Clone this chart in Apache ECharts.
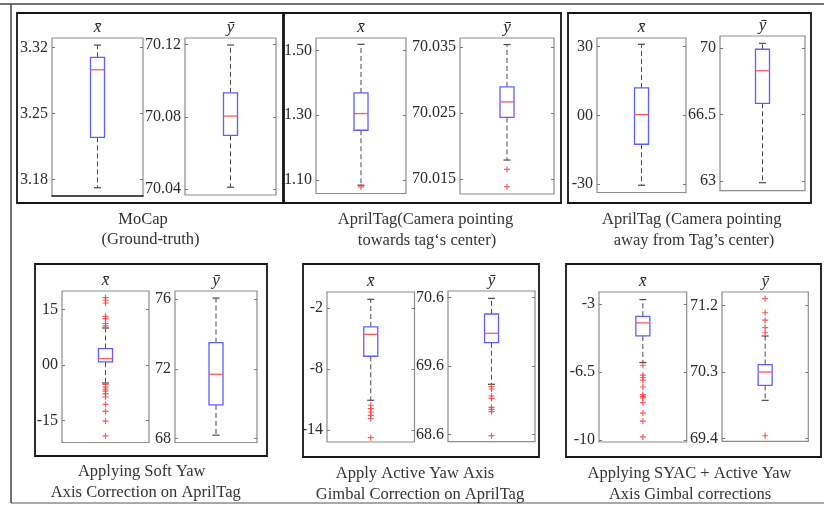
<!DOCTYPE html>
<html>
<head>
<meta charset="utf-8">
<script src="https://cdn.jsdelivr.net/npm/echarts@6/dist/echarts.min.js"></script>
<style>
  html, body { margin: 0; padding: 0; background: #fff; }
  #chart { width: 824px; height: 514px; }
</style>
</head>
<body>
<div id="chart"></div>
<script>
// Box statistics: [lower whisker, Q1, median, Q3, upper whisker]
const mocapX = [3.1715, 3.2249, 3.2966, 3.3098, 3.3228];
const mocapXOut = [];
const mocapY = [70.0409, 70.0697, 70.0804, 70.0933, 70.1198];
const mocapYOut = [];

const towardX = [1.0840, 1.2537, 1.3052, 1.3688, 1.5191];
const towardXOut = [1.0787];
const towardY = [70.0179, 70.02434, 70.02669, 70.02895, 70.03535];
const towardYOut = [70.01649, 70.01387];

const awayX = [-30.5, -12.6, 0.3, 11.95, 31.0];
const awayXOut = [];
const awayY = [62.92, 67.09, 68.80, 69.93, 70.24];
const awayYOut = [];

const softX = [-4.9, 0.79, 1.71, 4.42, 9.99];
const softXOut = [18.2, 17.5, 16.75, 13.15, 12.5, 11.2, 10.55,
                  -5.3, -6.0, -6.6, -7.1, -7.8, -8.7, -10.7, -12.6, -15.2, -19.2];
const softY = [68.19, 69.93, 71.69, 73.51, 76.07];
const softYOut = [];

const gimbalX = [-11.06, -6.75, -4.60, -3.88, -1.17];
const gimbalXOut = [-11.55, -11.88, -12.21, -12.53, -12.86, -14.72];
const gimbalY = [69.334, 69.939, 70.076, 70.357, 70.585];
const gimbalYOut = [69.299, 69.265, 69.163, 69.130, 68.999, 68.970, 68.935, 68.585];

const syacX = [-6.02, -4.65, -3.98, -3.64, -2.78];
const syacXOut = [-6.16, -6.67, -6.79, -6.93, -7.28, -7.67, -7.76, -7.84, -8.08, -8.62, -9.04, -9.85];
const syacY = [69.918, 70.12, 70.30, 70.40, 70.786];
const syacYOut = [71.29, 71.10, 71.00, 70.90, 70.83, 69.44];

// Axis ranges, tick values and tick labels
const mocapXRange = [3.1627, 3.3303];   const mocapXTicks = [3.18, 3.25, 3.32];     const mocapXLabels = ['3.18', '3.25', '3.32'];
const mocapYRange = [70.0366, 70.1237]; const mocapYTicks = [70.04, 70.08, 70.12];  const mocapYLabels = ['70.04', '70.08', '70.12'];
const towardXRange = [1.0583, 1.5386];  const towardXTicks = [1.10, 1.30, 1.50];    const towardXLabels = ['1.10', '1.30', '1.50'];
const towardYRange = [70.01277, 70.03634]; const towardYTicks = [70.015, 70.025, 70.035]; const towardYLabels = ['70.015', '70.025', '70.035'];
const awayXRange = [-33.66, 33.75];     const awayXTicks = [-30, 0, 30];            const awayXLabels = ['-30', '00', '30'];
const awayYRange = [62.50, 70.627];     const awayYTicks = [63, 66.5, 70];          const awayYLabels = ['63', '66.5', '70'];
const softXRange = [-21.01, 20.0];      const softXTicks = [-15, 0, 15];            const softXLabels = ['-15', '00', '15'];
const softYRange = [67.77, 76.475];     const softYTicks = [68, 72, 76];            const softYLabels = ['68', '72', '76'];
const gimbalXRange = [-15.147, -0.456]; const gimbalXTicks = [-14, -8, -2];         const gimbalXLabels = ['-14', '-8', '-2'];
const gimbalYRange = [68.498, 70.692];  const gimbalYTicks = [68.6, 69.6, 70.6];    const gimbalYLabels = ['68.6', '69.6', '70.6'];
const syacXRange = [-10.11, -2.39];     const syacXTicks = [-10, -6.5, -3];         const syacXLabels = ['-10', '-6.5', '-3'];
const syacYRange = [69.365, 71.38];     const syacYTicks = [69.4, 70.3, 71.2];      const syacYLabels = ['69.4', '70.3', '71.2'];

const subplotTitles = ['x\u0304', 'y\u0304'];

const captions = [
  ['MoCap', '(Ground-truth)'],
  ['AprilTag(Camera pointing', 'towards tag\u2018s center)'],
  ['AprilTag (Camera pointing', 'away from Tag\u2019s center)'],
  ['Applying Soft Yaw', 'Axis Correction on AprilTag'],
  ['Apply Active Yaw Axis', 'Gimbal Correction on AprilTag'],
  ['Applying SYAC + Active Yaw', 'Axis Gimbal corrections']
];

// Plot list (stats, outliers, axis) in drawing order
const plots = [
  { s: mocapX,  o: mocapXOut,  r: mocapXRange,  t: mocapXTicks,  l: mocapXLabels,  title: 0 },
  { s: mocapY,  o: mocapYOut,  r: mocapYRange,  t: mocapYTicks,  l: mocapYLabels,  title: 1 },
  { s: towardX, o: towardXOut, r: towardXRange, t: towardXTicks, l: towardXLabels, title: 0 },
  { s: towardY, o: towardYOut, r: towardYRange, t: towardYTicks, l: towardYLabels, title: 1 },
  { s: awayX,   o: awayXOut,   r: awayXRange,   t: awayXTicks,   l: awayXLabels,   title: 0 },
  { s: awayY,   o: awayYOut,   r: awayYRange,   t: awayYTicks,   l: awayYLabels,   title: 1 },
  { s: softX,   o: softXOut,   r: softXRange,   t: softXTicks,   l: softXLabels,   title: 0 },
  { s: softY,   o: softYOut,   r: softYRange,   t: softYTicks,   l: softYLabels,   title: 1 },
  { s: gimbalX, o: gimbalXOut, r: gimbalXRange, t: gimbalXTicks, l: gimbalXLabels, title: 0 },
  { s: gimbalY, o: gimbalYOut, r: gimbalYRange, t: gimbalYTicks, l: gimbalYLabels, title: 1 },
  { s: syacX,   o: syacXOut,   r: syacXRange,   t: syacXTicks,   l: syacXLabels,   title: 0 },
  { s: syacY,   o: syacYOut,   r: syacYRange,   t: syacYTicks,   l: syacYLabels,   title: 1 }
];

// Layout: plot areas [left, top, width, height]
const gridBoxes = [
  [52, 38, 91, 158],   [185, 38, 91, 157],
  [316, 38, 90, 155.5], [460, 38, 94, 156],
  [597, 38, 89, 154.5], [720, 36, 85, 154.7],
  [62, 291, 87, 151.5], [175, 291, 82, 151.5],
  [327, 292, 87.5, 150], [448, 291, 87, 150.7],
  [599, 292, 87.7, 150], [722, 292, 86.3, 149.3]
];
// Panel frames [x, y, w, h]
const panelFrames = [
  [17, 13, 266, 190], [284, 13, 277, 190], [568, 13, 243, 190],
  [35, 264, 232, 192], [303, 264, 236, 193], [566, 264, 255, 193]
];
// Caption line centres [[x1, y1], [x2, y2]]
const captionPos = [
  [[143, 220], [150.5, 240]],
  [[425.5, 220], [427, 240.5]],
  [[691.7, 220], [694, 240.5]],
  [[141.7, 471.7], [145.8, 492.5]],
  [[415, 473.3], [420, 494.3]],
  [[689.5, 473.3], [690, 494.3]]
];

const SERIF = 'Liberation Serif';
const TEXT = '#2a2a2a';
const FRAME = '#8c8c8c';
const BOX = '#5f5fff';
const MEDIAN = '#ff5b5b';
const WHISKER = '#4a4a4a';

function labelFor(p) {
  return function (v) {
    for (let i = 0; i < p.t.length; i++) {
      if (Math.abs(p.t[i] - v) < 1e-9) return p.l[i];
    }
    return '';
  };
}

function renderBox(params, api) {
  const cx = api.coord([0, api.value(1)])[0];
  const yAt = (i) => api.coord([0, api.value(i)])[1];
  const yLow = yAt(1), yQ1 = yAt(2), yMed = yAt(3), yQ3 = yAt(4), yHigh = yAt(5);
  const hw = 7, cw = 3.5;
  const dash = { stroke: WHISKER, lineWidth: 1, lineDash: [5, 3] };
  const cap = { stroke: WHISKER, lineWidth: 1.2 };
  return {
    type: 'group',
    children: [
      { type: 'line', shape: { x1: cx, y1: yQ3, x2: cx, y2: yHigh }, style: dash },
      { type: 'line', shape: { x1: cx, y1: yQ1, x2: cx, y2: yLow }, style: dash },
      { type: 'line', shape: { x1: cx - cw, y1: yHigh, x2: cx + cw, y2: yHigh }, style: cap },
      { type: 'line', shape: { x1: cx - cw, y1: yLow, x2: cx + cw, y2: yLow }, style: cap },
      { type: 'rect', shape: { x: cx - hw, y: yQ3, width: 2 * hw, height: yQ1 - yQ3 },
        style: { stroke: BOX, lineWidth: 1.3, fill: '#fff' } },
      { type: 'line', shape: { x1: cx - hw, y1: yMed, x2: cx + hw, y2: yMed },
        style: { stroke: MEDIAN, lineWidth: 1.3 } }
    ]
  };
}

const grid = [], xAxis = [], yAxis = [], series = [], graphic = [];

plots.forEach((p, i) => {
  const g = gridBoxes[i];
  grid.push({
    left: g[0], top: g[1], width: g[2], height: g[3],
    show: true, borderColor: FRAME, borderWidth: 1.2, backgroundColor: '#fff',
    outerBoundsMode: 'none', containLabel: false
  });
  xAxis.push({
    type: 'category', gridIndex: i, data: ['v'], boundaryGap: true,
    axisLine: { show: i === 0, lineStyle: { color: '#222', width: 1.5 } },
    axisTick: { show: false }, axisLabel: { show: false }, splitLine: { show: false }
  });
  const tickStyle = { show: true, inside: true, length: 3, customValues: p.t,
                      lineStyle: { color: '#777', width: 1 } };
  yAxis.push({
    type: 'value', gridIndex: i, min: p.r[0], max: p.r[1], position: 'left',
    axisLine: { show: false }, splitLine: { show: false },
    axisTick: tickStyle,
    axisLabel: {
      show: true, customValues: p.t, formatter: labelFor(p), margin: 4,
      fontFamily: SERIF, fontSize: 16, color: TEXT
    }
  });
  yAxis.push({
    type: 'value', gridIndex: i, min: p.r[0], max: p.r[1], position: 'right',
    axisLine: { show: false }, splitLine: { show: false },
    axisTick: tickStyle, axisLabel: { show: false }
  });
  series.push({
    type: 'custom', xAxisIndex: i, yAxisIndex: 2 * i,
    renderItem: renderBox, clip: false, silent: true,
    encode: { x: 0, y: [1, 2, 3, 4, 5] },
    data: [[0].concat(p.s)]
  });
  if (p.o.length) {
    series.push({
      type: 'scatter', xAxisIndex: i, yAxisIndex: 2 * i, silent: true,
      symbol: 'path://M2,0H3V2H5V3H3V5H2V3H0V2H2Z', symbolSize: 6,
      itemStyle: { color: '#ff3b3b', opacity: 0.85 },
      data: p.o.map(v => [0, v]), z: 5
    });
  }
  graphic.push({
    type: 'text', silent: true,
    x: g[0] + g[2] / 2, y: g[1] - 10,
    style: {
      text: subplotTitles[p.title], fontFamily: SERIF, fontStyle: 'italic', fontSize: 17,
      fill: TEXT, align: 'center', verticalAlign: 'middle'
    }
  });
});

// Outer figure border
graphic.push({ type: 'line', silent: true, shape: { x1: 0, y1: 4, x2: 824, y2: 4 },
               style: { stroke: '#444', lineWidth: 1.5 } });
graphic.push({ type: 'line', silent: true, shape: { x1: 11, y1: 4, x2: 11, y2: 503 },
               style: { stroke: '#444', lineWidth: 1.5 } });
graphic.push({ type: 'line', silent: true, shape: { x1: 11, y1: 503, x2: 824, y2: 503 },
               style: { stroke: '#555', lineWidth: 1.2 } });

panelFrames.forEach(f => {
  graphic.push({ type: 'rect', silent: true, z: -1,
    shape: { x: f[0], y: f[1], width: f[2], height: f[3] },
    style: { fill: 'none', stroke: '#161616', lineWidth: 1.8 } });
});

captions.forEach((lines, k) => {
  lines.forEach((txt, j) => {
    graphic.push({ type: 'text', silent: true,
      x: captionPos[k][j][0], y: captionPos[k][j][1],
      style: { text: txt, fontFamily: SERIF, fontSize: 16.5, fill: '#333',
               align: 'center', verticalAlign: 'middle' } });
  });
});

const chart = echarts.init(document.getElementById('chart'), null, { renderer: 'canvas' });
chart.setOption({
  animation: false,
  backgroundColor: '#fff',
  grid, xAxis, yAxis, series, graphic
});
</script>
</body>
</html>
